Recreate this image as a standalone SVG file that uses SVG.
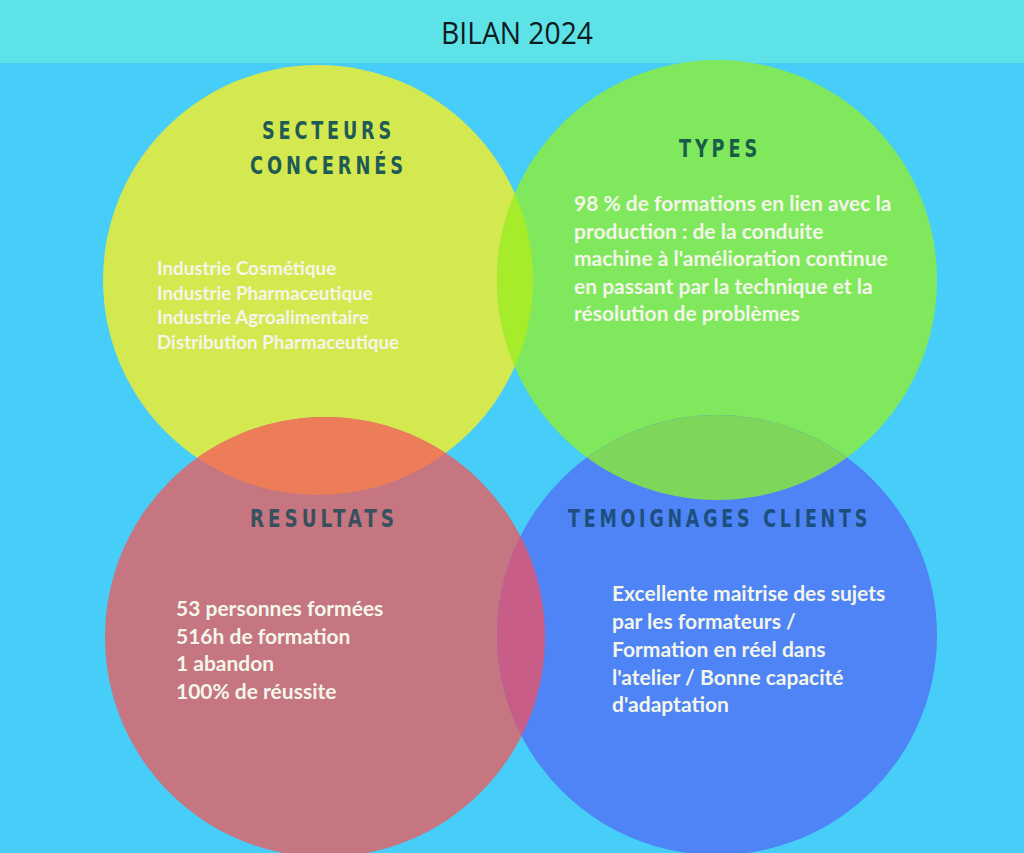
<svg xmlns="http://www.w3.org/2000/svg" width="1024" height="853" viewBox="0 0 1024 853">
<style>
.title{font-family:"DejaVu Sans Condensed","DejaVu Sans",sans-serif;font-stretch:condensed;font-weight:bold;font-size:25.5px;letter-spacing:5px}
.body{font-family:Lato,"Open Sans",sans-serif;font-weight:bold;fill:#f4f6ea}
</style>
<defs>
<clipPath id="cY"><circle cx="318" cy="280" r="215"/></clipPath>
<clipPath id="cR"><circle cx="325" cy="637" r="220"/></clipPath>
<clipPath id="cG"><circle cx="717" cy="280" r="220"/></clipPath>
</defs>
<rect x="0" y="0" width="1024" height="853" fill="#46cdf8"/>
<g id="header">
<rect x="0" y="0" width="1024" height="63" fill="#5de3e7"/>
<text x="441" y="44" font-family="'Open Sans','Noto Sans',sans-serif" font-size="31" fill="#0d1a20" textLength="152" lengthAdjust="spacingAndGlyphs">BILAN 2024</text>
</g>
<g id="shapes">
<circle cx="318" cy="280" r="215" fill="#d4e850"/>
<circle cx="717" cy="280" r="220" fill="#80e85c"/>
<circle cx="325" cy="637" r="220" fill="#c57680"/>
<circle cx="717" cy="635" r="220" fill="#4e84f6"/>
</g>
<g id="overlaps">
<circle cx="717" cy="280" r="220" fill="#a6ec2b" clip-path="url(#cY)"/>
<circle cx="325" cy="637" r="220" fill="#ec7d58" clip-path="url(#cY)"/>
<circle cx="717" cy="635" r="220" fill="#7ed65b" clip-path="url(#cG)"/>
<circle cx="717" cy="635" r="220" fill="#c85d88" clip-path="url(#cR)"/>
</g>
<g id="secteurs">
<text class="title" x="262" y="139" fill="#1f5b55" textLength="133" lengthAdjust="spacingAndGlyphs">SECTEURS</text>
<text class="title" x="250" y="174" fill="#1f5b55" textLength="157" lengthAdjust="spacingAndGlyphs">CONCERNÉS</text>
<text class="body" font-size="18.8"><tspan x="157" y="275">Industrie Cosmétique</tspan><tspan x="157" y="299.5">Industrie Pharmaceutique</tspan><tspan x="157" y="324">Industrie Agroalimentaire</tspan><tspan x="157" y="348.5">Distribution Pharmaceutique</tspan></text>
</g>
<g id="types">
<text class="title" x="679" y="157" fill="#1a5c48" textLength="82" lengthAdjust="spacingAndGlyphs">TYPES</text>
<text class="body" font-size="21"><tspan x="574" y="211">98 % de formations en lien avec la</tspan><tspan x="574" y="238.5">production : de la conduite</tspan><tspan x="574" y="266">machine à l'amélioration continue</tspan><tspan x="574" y="293.5">en passant par la technique et la</tspan><tspan x="574" y="321">résolution de problèmes</tspan></text>
</g>
<g id="resultats">
<text class="title" x="250" y="527" fill="#37505e" textLength="148" lengthAdjust="spacingAndGlyphs">RESULTATS</text>
<text class="body" font-size="21"><tspan x="176" y="616">53 personnes formées</tspan><tspan x="176" y="643.5">516h de formation</tspan><tspan x="176" y="671">1 abandon</tspan><tspan x="176" y="698.5">100% de réussite</tspan></text>
</g>
<g id="temoignages">
<text class="title" x="568" y="527" fill="#1d4f7e" textLength="303" lengthAdjust="spacingAndGlyphs">TEMOIGNAGES CLIENTS</text>
<text class="body" font-size="21"><tspan x="612" y="601">Excellente maitrise des sujets</tspan><tspan x="612" y="629">par les formateurs /</tspan><tspan x="612" y="657">Formation en réel dans</tspan><tspan x="612" y="684.5">l'atelier / Bonne capacité</tspan><tspan x="612" y="712">d'adaptation</tspan></text>
</g>
</svg>
